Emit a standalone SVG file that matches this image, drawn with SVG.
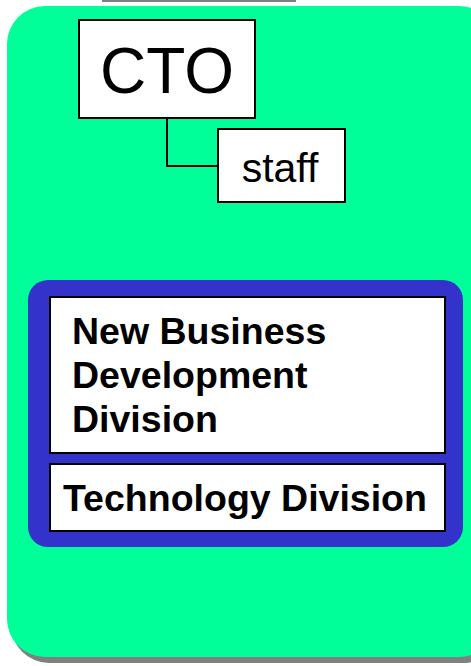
<svg xmlns="http://www.w3.org/2000/svg" width="471" height="666" viewBox="0 0 471 666">
<style>
.box{fill:#ffffff;stroke:#000000;stroke-width:2}
.reg{font-family:"Liberation Sans",Arial,sans-serif;fill:#000}
.bold{font-family:"Liberation Sans",Arial,sans-serif;font-weight:bold;fill:#000;font-size:37.5px}
.conn{fill:none;stroke:#000;stroke-width:2}
</style>
<rect width="471" height="666" fill="#ffffff"/>
<rect x="102" y="0" width="194" height="2" fill="#808080"/>
<g id="background">
<rect x="11" y="12" width="490" height="651" rx="38" fill="#808080"/>
<rect x="7" y="6" width="490" height="651" rx="38" fill="#00ff99"/>
</g>
<g id="connectors">
<polyline class="conn" points="167,118 167,166 218,166"/>
</g>
<g id="cto">
<rect class="box" x="79" y="20" width="176" height="98"/>
<text class="reg" x="167" y="93" font-size="64" text-anchor="middle">CTO</text>
</g>
<g id="staff">
<rect class="box" x="218" y="129" width="127" height="73"/>
<text class="reg" x="280" y="182" font-size="41" text-anchor="middle">staff</text>
</g>
<g id="divisions">
<rect x="28" y="280" width="435" height="267" rx="20" fill="#3333cc"/>
<g id="nbd">
<rect class="box" x="50" y="297" width="395" height="156"/>
<text class="bold" x="72" y="344">New Business</text>
<text class="bold" x="72" y="388">Development</text>
<text class="bold" x="72" y="432">Division</text>
</g>
<g id="tech">
<rect class="box" x="50" y="464" width="395" height="67"/>
<text class="bold" x="63" y="511">Technology Division</text>
</g>
</g>
</svg>
